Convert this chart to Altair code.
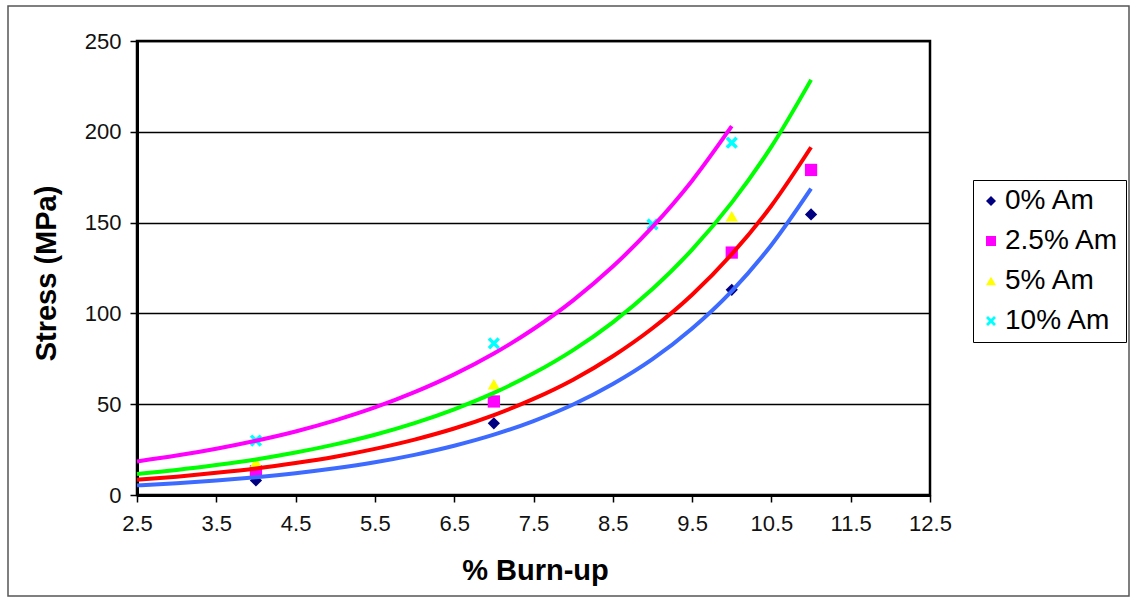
import altair as alt
import pandas as pd

# Measured stress values for each americium content
series = ["0% Am", "2.5% Am", "5% Am", "10% Am"]
marker_colors = ["#000080", "#FF00FF", "#FFFF00", "#00FFFF"]
trend_colors = ["#3D6BFF", "#FF0000", "#00FF00", "#FF00FF"]

burnup_0 = [4, 7, 10, 11]
stress_0 = [8, 39.5, 113, 154.5]
burnup_25 = [4, 7, 10, 11]
stress_25 = [13, 51.5, 133.5, 179]
burnup_5 = [4, 7, 10]
stress_5 = [18, 61, 153.5]
burnup_10 = [4, 7, 9, 10]
stress_10 = [30, 83.5, 149, 194]

# Exponential trend lines sampled every 0.5 % burn-up
trend_x = [2.5, 3, 3.5, 4, 4.5, 5, 5.5, 6, 6.5, 7, 7.5, 8, 8.5, 9, 9.5, 10, 10.5, 11]
trend_0 = [5.3, 6.5, 8.0, 9.8, 12.0, 14.7, 18.0, 22.1, 27.1, 33.2, 40.7, 49.8,
           61.1, 74.8, 91.7, 112.3, 137.7, 168.7]
trend_25 = [8.4, 10.1, 12.2, 14.6, 17.6, 21.1, 25.4, 30.5, 36.6, 44.0, 52.9, 63.5,
            76.4, 91.8, 110.3, 132.6, 159.3, 191.5]
trend_5 = [11.6, 13.8, 16.5, 19.6, 23.4, 27.9, 33.2, 39.6, 47.2, 56.2, 67.0, 79.8,
           95.1, 113.4, 135.1, 161.0, 191.8, 228.6]
trend_10 = [18.5, 21.7, 25.5, 29.9, 35.0, 41.1, 48.2, 56.6, 66.4, 77.9, 91.4, 107.2,
            125.8, 147.6, 173.1, 203.1]

x_ticks = [2.5, 3.5, 4.5, 5.5, 6.5, 7.5, 8.5, 9.5, 10.5, 11.5, 12.5]
y_ticks = [0, 50, 100, 150, 200, 250]

# filled "x" marker
x_path = ("M-1,-0.6L-0.6,-1L0,-0.4L0.6,-1L1,-0.6L0.4,0L1,0.6L0.6,1"
          "L0,0.4L-0.6,1L-1,0.6L-0.4,0Z")
marker_shapes = ["diamond", "square", "triangle-up", x_path]

rows = []
for name, xs, ys in zip(series, [burnup_0, burnup_25, burnup_5, burnup_10],
                        [stress_0, stress_25, stress_5, stress_10]):
    for xv, yv in zip(xs, ys):
        rows.append({"series": name, "burnup": xv, "stress": yv})
points_df = pd.DataFrame(rows)

trend_rows = []
for name, col, ys in zip(series, trend_colors, [trend_0, trend_25, trend_5, trend_10]):
    for xv, yv in zip(trend_x, ys):
        trend_rows.append({"series": name, "hex": col, "burnup": xv, "stress": yv})
trend_df = pd.DataFrame(trend_rows)

FONT = "Liberation Sans"

legend = alt.Legend(
    title=None, orient="none", legendX=836, legendY=139,
    strokeColor="#000000", padding=7, symbolOffset=-3,
    labelFontSize=28, labelFont=FONT, labelColor="#000000",
    rowPadding=12, labelOffset=0, symbolStrokeWidth=0,
)

x_enc = alt.X(
    "burnup:Q",
    scale=alt.Scale(domain=[2.5, 12.5], nice=False, zero=False),
    axis=alt.Axis(values=x_ticks, format=".1f", title="% Burn-up", grid=False,
                  labelFlush=False, labelPadding=11, titleX=398, titleY=84,
                  titleBaseline="alphabetic", titleAlign="center"),
)
y_enc = alt.Y(
    "stress:Q",
    scale=alt.Scale(domain=[0, 250], nice=False),
    axis=alt.Axis(values=y_ticks, title="Stress (MPa)", grid=True, labelFlush=False,
                  labelPadding=9, titleX=-82, titleY=232, titleAngle=270,
                  titleBaseline="alphabetic", titleAlign="center"),
)

markers = alt.Chart(points_df).mark_point(filled=True, size=150, opacity=1).encode(
    x=x_enc,
    y=y_enc,
    color=alt.Color("series:N", scale=alt.Scale(domain=series, range=marker_colors),
                    legend=legend),
    shape=alt.Shape("series:N", scale=alt.Scale(domain=series, range=marker_shapes),
                    legend=legend),
)

trends = alt.Chart(trend_df).mark_line(strokeWidth=4, interpolate="monotone").encode(
    x="burnup:Q",
    y="stress:Q",
    color=alt.Color("hex:N", scale=None),
    detail="series:N",
)

frame = alt.Chart(pd.DataFrame({"f": [0]})).mark_rect(
    fill="#ffffff", fillOpacity=0, stroke="#555555", strokeWidth=1.5
).encode(x=alt.value(-129), x2=alt.value(992), y=alt.value(-35), y2=alt.value(555))

chart = (
    alt.layer(frame, markers, trends)
    .properties(width=793, height=454, autosize=alt.AutoSizeParams(type="none"),
                padding={"left": 137, "top": 41, "right": 202, "bottom": 102},
                background="#ffffff")
    .configure_view(stroke="#000000", strokeWidth=2.5)
    .configure_axis(
        domainColor="#000000", domainWidth=3, tickColor="#000000", tickWidth=1.5,
        tickSize=7, labelFont=FONT, labelFontSize=22, labelColor="#111111",
        titleFont=FONT, titleFontSize=29, titleFontWeight="bold", titleColor="#000000",
        gridColor="#000000", gridWidth=1.5, gridOpacity=1,
    )
)

chart.save("out.html", embed_options={"renderer": "svg", "actions": False})
